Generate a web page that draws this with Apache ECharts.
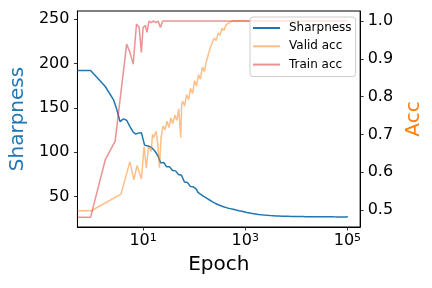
<!DOCTYPE html>
<html><head><meta charset="utf-8">
<script src="https://cdn.jsdelivr.net/npm/echarts@6/dist/echarts.min.js"></script>
<style>html,body{margin:0;padding:0;background:#fff}#c{width:432px;height:288px}</style>
</head><body><div id="c"></div>
<script>
const seriesNames = ['Sharpness', 'Valid acc', 'Train acc'];

const sharpEpochs = [0.52, 0.94, 1.82, 2.64, 3.06, 3.54, 4.12, 4.77, 5.5, 6.41, 7.2, 8.0, 9.27, 10.7, 11.6, 12.5, 13.4, 14.5, 15.6, 16.7,
  19.5, 22.2, 25.4, 29.0, 33.1, 37.9, 43.3, 49.4, 56.5, 64.5, 73.7, 84.2, 96.2,
  110, 117.6, 125.7, 134.3, 143.5, 153.4, 164, 175.3, 187.3, 200.2, 214, 228.7, 244.4, 261.2, 279.2, 298.4, 318.9, 340.9, 364.3, 389.4, 416.2, 444.8, 475.4, 508.1, 543.1, 580.4, 620.4, 663, 708.6, 757.4, 809.5, 865.2, 924.7,
  1069, 1142, 1221, 1305, 1394, 1490, 1593, 1702, 1819, 1944, 2078, 2221, 2374, 2537, 2712, 2898, 3098, 3311, 3538, 3782, 4042, 4320, 4617, 4935, 5274, 5637, 6025, 6439, 6882, 7356, 7862, 8402, 8980, 9598,
  10258, 10964, 11718, 12524, 13386, 14306, 15290, 16342, 17466, 18668, 19952, 21324, 22791, 24359, 26035, 27825, 29739, 31785, 33971, 36308, 38806, 41475, 44328, 47377, 50636, 54119, 57842, 61821, 66073, 70618, 75476, 80668, 86217, 92148, 98487, 100000];
const sharpValues = [192, 192, 174, 159, 148, 134.5, 137.5, 136, 129, 122.5, 120.5, 121.5, 122, 108, 109.5, 107, 108, 105.5, 104.5, 102,
  96, 88, 88.5, 83.5, 83.5, 79.5, 79, 75, 74, 66.5, 66, 61.5, 61,
  58.5, 55.1, 55.8, 52.6, 53.5, 50.4, 51.3, 48.2, 49.2, 46.2, 47.2, 44.2, 45.2, 42.3, 43.5, 40.8, 42.1, 39.5, 40.9, 38.3, 39.8, 37.3, 38.9, 36.5, 38.1, 35.7, 37.3, 34.9, 36.5, 34.15, 35.8, 33.45, 35.1,
  32.2, 34.1, 31.6, 33.5, 31.0, 32.95, 30.5, 32.45, 30.0, 32.0, 29.6, 31.6, 29.25, 31.3, 28.95, 31.0, 28.7, 30.8, 28.5, 30.6, 28.3, 30.4, 28.15, 30.3, 28.0, 30.15, 27.9, 30.05, 27.8, 29.95, 27.7, 29.9, 27.65, 29.85,
  27.6, 29.8, 27.55, 29.75, 27.5, 29.7, 27.45, 29.65, 27.4, 29.6, 27.4, 29.55, 27.35, 29.55, 27.3, 29.5, 27.3, 29.5, 27.3, 29.45, 27.25, 29.45, 27.25, 29.45, 27.25, 29.4, 27.2, 29.4, 27.2, 29.4, 27.2, 29.4, 27.2, 29.4, 27.2, 28.3];

const validEpochs = [0.52, 0.97, 3.7, 5.52, 6.59, 7.66, 9.27, 10.45, 11.58, 12.82, 14.45, 15.3, 16.0, 18.0, 19.45, 20.9,
  22.5, 24.6, 26.9, 29.4, 32.1, 35, 38, 42, 46, 50, 54.7, 57, 60, 65, 71, 78, 85, 93, 102, 111, 122, 133, 145, 159, 173, 189,
  207, 226, 247, 270, 295, 322, 352, 385, 421, 460, 502, 549, 600, 656, 717, 783, 856, 935, 1200, 2000, 5000, 20000, 100000];
const validValues = [0.498, 0.498, 0.542, 0.628, 0.580, 0.618, 0.582, 0.668, 0.611, 0.668, 0.655, 0.700, 0.691, 0.708, 0.673, 0.612,
  0.691, 0.722, 0.712, 0.735, 0.718, 0.744, 0.728, 0.751, 0.737, 0.768, 0.691, 0.780, 0.788, 0.775, 0.805, 0.792, 0.822, 0.808, 0.842, 0.828, 0.858, 0.846, 0.878, 0.866, 0.893, 0.888,
  0.930, 0.925, 0.955, 0.948, 0.968, 0.962, 0.981, 0.975, 0.990, 0.985, 0.997, 0.992, 1.0, 0.996, 1.001, 0.998, 1.0, 1.0, 1.0, 1.0, 1.0, 1.0, 1.0];

const trainEpochs = [0.52, 0.94, 1.82, 2.84, 4.77, 5.52, 6.41, 7.43, 8.37, 9.27, 10, 11.07, 11.94, 13.06, 14.45, 16.0, 18.0, 19.7, 21.8, 24.3, 100000];
const trainValues = [0.481, 0.481, 0.633, 0.682, 0.939, 0.917, 0.886, 0.992, 0.983, 0.917, 0.983, 0.988, 0.970, 1.0, 0.996, 1.0, 0.996, 1.0, 0.983, 1.0, 1.0];

const epochTickExps = [1, 3, 5];
const sharpTicks = [50, 100, 150, 200, 250];
const accTicks = [0.5, 0.6, 0.7, 0.8, 0.9, 1.0];

const FONT = 'DejaVu Sans';
const zip = (a, b) => a.map((x, i) => [x, b[i]]);
const tickStyle = {color: '#000', width: 0.8};

const chart = echarts.init(document.getElementById('c'), null, {renderer: 'canvas'});
chart.setOption({
  animation: false,
  backgroundColor: '#fff',
  grid: {left: 75, right: 70, top: 11, bottom: 61, show: true, borderColor: '#000', borderWidth: 1, backgroundColor: 'transparent'},
  legend: {
    orient: 'vertical', left: 250, top: 17,
    data: seriesNames,
    icon: 'rect', itemWidth: 27, itemHeight: 2, itemGap: 4.3,
    padding: [4, 4, 5, 3],
    borderColor: '#cccccc', borderWidth: 1, borderRadius: 3,
    backgroundColor: 'rgba(255,255,255,0.8)',
    textStyle: {fontFamily: FONT, fontSize: 12, color: '#000', lineHeight: 14, padding: [0, 0, 0, 4]}
  },
  xAxis: [
    {
      type: 'log', logBase: 10, min: 0.5188, max: 177828, position: 'bottom',
      axisLine: {show: true, onZero: false, lineStyle: {color: '#000', width: 1}},
      axisTick: {show: false}, axisLabel: {show: false}, splitLine: {show: false},
      name: 'Epoch', nameLocation: 'middle', nameGap: 28,
      nameTextStyle: {fontFamily: FONT, fontSize: 20, color: '#000'}
    },
    {
      type: 'value', min: -0.285, max: 5.25, position: 'bottom',
      axisLine: {show: false, onZero: false},
      axisTick: {show: true, customValues: epochTickExps, length: 3.5, lineStyle: tickStyle},
      axisLabel: {
        customValues: epochTickExps, margin: 6,
        formatter: v => '10{s|' + v + '}',
        fontFamily: FONT, fontSize: 16, color: '#000',
        rich: {s: {fontFamily: FONT, fontSize: 11, color: '#000', verticalAlign: 'top'}}
      },
      splitLine: {show: false}
    }
  ],
  yAxis: [
    {
      type: 'value', position: 'left', min: 15.8, max: 259,
      axisLine: {show: true, onZero: false, lineStyle: {color: '#000', width: 1}},
      axisTick: {show: true, customValues: sharpTicks, length: 3.5, lineStyle: tickStyle},
      axisLabel: {customValues: sharpTicks, margin: 8, fontFamily: FONT, fontSize: 16, color: '#000'},
      splitLine: {show: false},
      name: 'Sharpness', nameLocation: 'middle', nameGap: 46, nameRotate: 90,
      nameTextStyle: {fontFamily: FONT, fontSize: 20, color: '#1f77b4'}
    },
    {
      type: 'value', position: 'right', min: 0.455, max: 1.0265,
      axisLine: {show: true, onZero: false, lineStyle: {color: '#000', width: 1}},
      axisTick: {show: true, customValues: accTicks, length: 3.5, lineStyle: tickStyle},
      axisLabel: {customValues: accTicks, margin: 7.5, formatter: v => Number(v).toFixed(1), fontFamily: FONT, fontSize: 16, color: '#000'},
      splitLine: {show: false},
      name: 'Acc', nameLocation: 'middle', nameGap: 39, nameRotate: 90,
      nameTextStyle: {fontFamily: FONT, fontSize: 20, color: '#ff7f0e'}
    }
  ],
  series: [
    {name: seriesNames[0], type: 'line', xAxisIndex: 0, yAxisIndex: 0, data: zip(sharpEpochs, sharpValues),
     showSymbol: false, symbol: 'none', lineStyle: {width: 1.5, color: '#1f77b4'}, itemStyle: {color: '#1f77b4'}},
    {name: seriesNames[1], type: 'line', xAxisIndex: 0, yAxisIndex: 1, data: zip(validEpochs, validValues),
     showSymbol: false, symbol: 'none', lineStyle: {width: 1.5, color: 'rgba(255,127,14,0.5)'}, itemStyle: {color: 'rgba(255,127,14,0.5)'}},
    {name: seriesNames[2], type: 'line', xAxisIndex: 0, yAxisIndex: 1, data: zip(trainEpochs, trainValues),
     showSymbol: false, symbol: 'none', lineStyle: {width: 1.5, color: 'rgba(214,39,40,0.5)'}, itemStyle: {color: 'rgba(214,39,40,0.5)'}}
  ]
});
</script>
</body></html>
